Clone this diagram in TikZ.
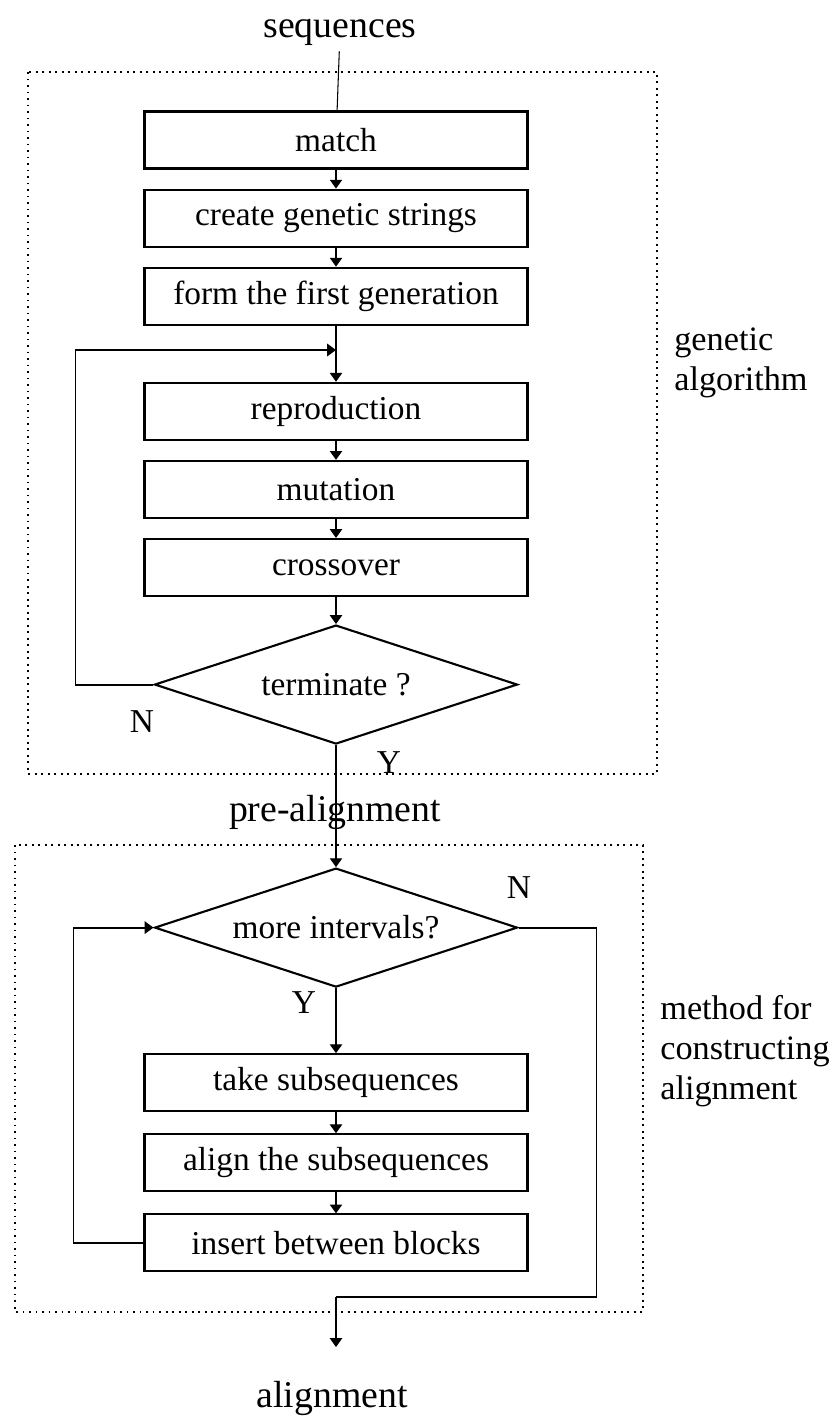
\documentclass[tikz,border=0pt]{standalone}
\usepackage{fontspec}
\setmainfont{Liberation Serif}
\usetikzlibrary{shapes.geometric, arrows.meta, positioning}
\newcommand{\boxfont}{\fontsize{19}{23}\selectfont}
\newcommand{\headfont}{\fontsize{21.5}{26}\selectfont}
\newcommand{\sidefont}{\fontsize{19.5}{22.8}\selectfont}

\begin{document}
\begin{tikzpicture}[
  x=0.02cm, y=-0.02cm,
  >={Triangle[length=5pt, width=7pt]},
  stepbox/.style={draw, line width=1.2pt, minimum width=7.66cm, minimum height=1.14cm,
    font=\boxfont, inner sep=2pt},
  test/.style={diamond, aspect=3, draw, line width=1.2pt, minimum width=7.26cm,
    minimum height=2.38cm, inner sep=0pt, font=\boxfont},
  flow/.style={->, line width=0.6pt},
  back/.style={line width=1.1pt},
  groupframe/.style={line width=1.1pt, dash pattern=on 1.1pt off 2.6pt},
  headlbl/.style={font=\headfont},
  sidelbl/.style={font=\sidefont, align=left, anchor=west, inner sep=0pt},
  ynlbl/.style={font=\boxfont},
  node distance=0.38cm
]
  \useasboundingbox (0,0) rectangle (839,1418);

  % Frames round the two stages
  \draw[groupframe] (28,72) rectangle (657,774);
  \draw[groupframe] (15,845) rectangle (643,1312);

  % Genetic algorithm
  \node[headlbl] (seq) at (340,32) {sequences};
  \node[stepbox] (match) at (336,140) {match};
  \node[stepbox, below=of match] (genstr) {create genetic strings};
  \node[stepbox, below=of genstr] (firstgen) {form the first generation};
  \node[stepbox, below=1.12cm of firstgen] (reprod) {reproduction};
  \node[stepbox, below=of reprod] (mutat) {mutation};
  \node[stepbox, below=of mutat] (cross) {crossover};
  \node[test, below=0.54cm of cross] (term) {terminate ?};
  \coordinate (join) at (336,350);

  \node[ynlbl] (nterm) at (142,722) {N};
  \node[ynlbl] (yterm) at (389,763) {Y};
  \node[headlbl] (pre) at (335,812) {pre-alignment};

  % Constructing the alignment
  \node[test, below=2.44cm of term] (more) {more intervals?};
  \node[stepbox, below=1.3cm of more] (takesub) {take subsequences};
  \node[stepbox, below=0.42cm of takesub] (alignsub) {align the subsequences};
  \node[stepbox, below=0.42cm of alignsub] (insert) {insert between blocks};
  \coordinate (exitpt) at (336,1297);
  \coordinate (tip) at (336,1347);

  \node[ynlbl] (nmore) at (519,888) {N};
  \node[ynlbl] (ymore) at (304,1003) {Y};
  \node[headlbl] (res) at (332,1398) {alignment};

  \node[sidelbl] (galabel) at (674,363) {genetic\\algorithm};
  \node[sidelbl] (mlabel) at (660,1051) {method for\\constructing\\alignment};

  % Connectors
  \draw[line width=0.6pt] (seq) -- (match);
  \draw[flow] (match) -- (genstr);
  \draw[flow] (genstr) -- (firstgen);
  \draw[flow] (firstgen) -- (reprod);
  \draw[flow] (reprod) -- (mutat);
  \draw[flow] (mutat) -- (cross);
  \draw[flow] (cross) -- (term);
  \draw[back, ->] (term.west) -- ++(-78,0) |- (join);
  \draw[flow] (term) -- (more);

  \draw[flow] (more) -- (takesub);
  \draw[flow] (takesub) -- (alignsub);
  \draw[flow] (alignsub) -- (insert);
  \draw[back, ->] (insert.west) -- ++(-70,0) |- (more.west);
  \draw[back] (more.east) -- ++(78,0) |- (exitpt);
  \draw[flow] (exitpt) -- (tip);
\end{tikzpicture}
\end{document}
